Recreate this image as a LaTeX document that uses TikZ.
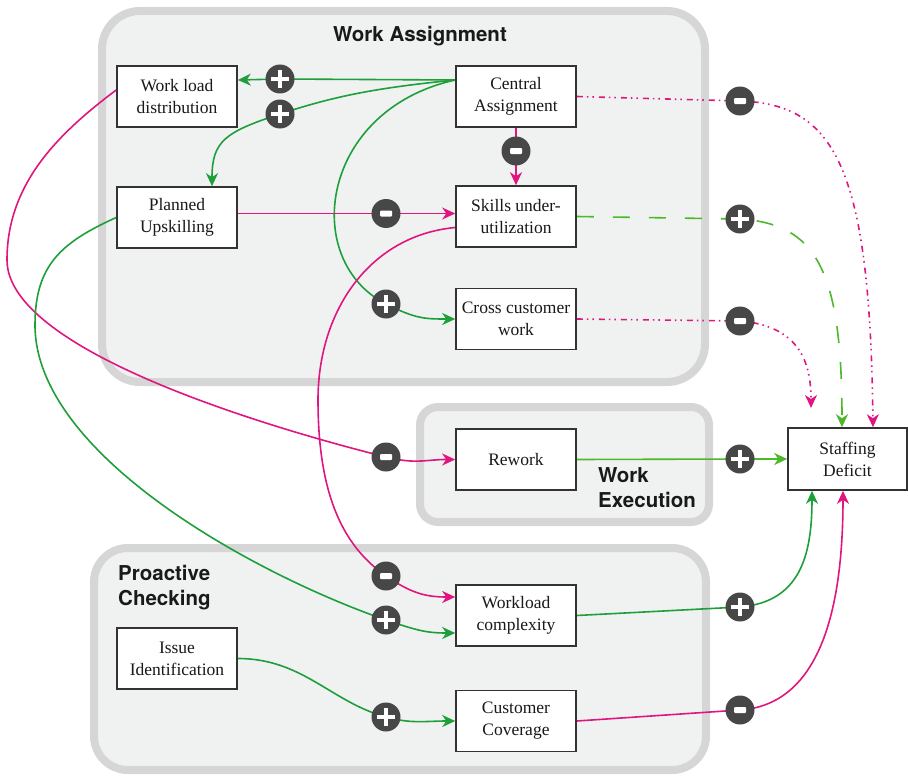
\documentclass[tikz,border=0pt]{standalone}
\usepackage{fontspec}
\setmainfont{Liberation Serif}
\newfontfamily\headfont{TeX Gyre Heros}
\usetikzlibrary{arrows.meta}

\definecolor{grpfill}{HTML}{F0F2F2}
\definecolor{grpline}{HTML}{D6D6D6}
\definecolor{signgray}{HTML}{474747}
\definecolor{posgreen}{HTML}{1E9F3A}
\definecolor{litegreen}{HTML}{4DB82A}
\definecolor{neglink}{HTML}{E0157F}

\pgfdeclarelayer{frame}
\pgfdeclarelayer{edge}
\pgfsetlayers{frame,edge,main}

\begin{document}
\begin{tikzpicture}[x=1pt,y=-1pt,
  factor/.style={draw=black!80, line width=1.6pt, fill=white, minimum width=120pt,
    minimum height=61pt, align=center, inner sep=2pt, text=black!90,
    font=\fontsize{17.5}{22}\selectfont},
  group/.style={draw=grpline, line width=8pt, fill=grpfill},
  grouptitle/.style={font=\headfont\bfseries\fontsize{20.5}{25}\selectfont,
    inner sep=0pt, align=left, text=black!90},
  link/.style={line width=1.6pt, -{Stealth[length=13pt,width=12pt,inset=4pt]}},
  pluslink/.style={link, draw=posgreen},
  minuslink/.style={link, draw=neglink},
  dashdotdot/.style={dash pattern=on 6pt off 4pt on 1.5pt off 4pt on 1.5pt off 5pt},
  sign/.style={circle, fill=signgray, minimum size=29pt, inner sep=0pt},
  plusmark/.style={sign, path picture={
    \draw[white, line width=4.5pt]
      ([xshift=-9pt]path picture bounding box.center) -- ([xshift=9pt]path picture bounding box.center)
      ([yshift=-9pt]path picture bounding box.center) -- ([yshift=9pt]path picture bounding box.center);}},
  minusmark/.style={sign, path picture={
    \fill[white, rounded corners=1pt]
      ([shift={(-6pt,-3pt)}]path picture bounding box.center) rectangle
      ([shift={(6pt,3pt)}]path picture bounding box.center);}}
]
\useasboundingbox (0,0) rectangle (908,776);

% groups
\begin{pgfonlayer}{frame}
\draw[group, rounded corners=38pt] (102,11) rectangle (705,382);
\draw[group, rounded corners=18pt] (420,407) rectangle (709,522);
\draw[group, rounded corners=34pt] (94,548) rectangle (706,770);
\end{pgfonlayer}

\node[grouptitle, anchor=north] (tAssign) at (420,26) {Work Assignment};
\node[grouptitle, anchor=north west] (tExec) at (598,467) {Work\\Execution};
\node[grouptitle, anchor=north west] (tCheck) at (118,565) {Proactive\\Checking};

% factors
\node[factor] (wld) at (177,96.5) {Work load\\distribution};
\node[factor] (cas) at (516,96.5) {Central\\Assignment};
\node[factor] (pup) at (177,217.5) {Planned\\Upskilling};
\node[factor] (suu) at (516,216.5) {Skills under-\\utilization};
\node[factor] (ccw) at (516,319) {Cross customer\\work};
\node[factor] (rwk) at (516,459.5) {Rework};
\node[factor, minimum width=119pt, minimum height=62pt] (sdf) at (847.5,459) {Staffing\\Deficit};
\node[factor] (wlc) at (516,615.5) {Workload\\complexity};
\node[factor] (iid) at (177,658.5) {Issue\\Identification};
\node[factor] (cov) at (516,721) {Customer\\Coverage};

% polarity signs
\node[plusmark] (sWld) at (280,79) {};
\node[plusmark] (sPup) at (280,114) {};
\node[minusmark] (sSuu) at (516,151) {};
\node[minusmark] (sPupSuu) at (386,213.5) {};
\node[plusmark] (sCcw) at (386,304) {};
\node[minusmark] (sCasSd) at (740,101) {};
\node[plusmark] (sSuuSd) at (740,219) {};
\node[minusmark] (sCcwSd) at (740,321) {};
\node[minusmark] (sRwk) at (386,457) {};
\node[plusmark] (sRwkSd) at (740,459) {};
\node[minusmark] (sSuuWlc) at (386,576) {};
\node[plusmark] (sPupWlc) at (386,620) {};
\node[plusmark] (sWlcSd) at (740,607) {};
\node[plusmark] (sCov) at (386,717) {};
\node[minusmark] (sCovSd) at (740,710) {};

\coordinate (ccwEnd) at (811,408);

% links
\begin{pgfonlayer}{edge}
\draw[pluslink] ([yshift=16.5pt]cas.west) -- (sWld.center) -- ([yshift=16.5pt]wld.east);
\draw[pluslink] ([yshift=16.5pt]cas.west) .. controls +(-80,8) and +(55,-18) .. (sPup.center)
  .. controls +(-55,18) and +(0,-45) .. ([xshift=35pt]pup.north);
\draw[pluslink] ([yshift=16.5pt]cas.west) .. controls (320,110) and (300,260) .. (sCcw.center)
  .. controls +(30,15) and +(-30,0) .. (ccw.west);
\draw[minuslink] (cas.south) -- (sSuu.center) -- (suu.north);
\draw[minuslink] ([yshift=4pt]pup.east) -- (sPupSuu.center) -- ([yshift=3pt]suu.west);

\draw[minuslink] ([yshift=6.5pt]wld.west) .. controls +(-60,45) and +(0,-75) .. (7,260)
  .. controls +(0,90) and +(-120,-30) .. (sRwk.center)
  .. controls +(30,7.5) and +(-30,0) .. (rwk.west);
\draw[pluslink] (pup.west) .. controls +(-55,25) and +(0,-60) .. (35,325)
  .. controls +(0,130) and +(-130,-45) .. (sPupWlc.center)
  .. controls +(30,10) and +(-30,0) .. ([yshift=-17.5pt]wlc.west);
\draw[minuslink] ([yshift=-11pt]suu.west) .. controls +(-85,8) and +(0,-90) .. (318,400)
  .. controls +(0,100) and +(-40,-28) .. (sSuuWlc.center)
  .. controls +(25,17) and +(-30,0) .. ([yshift=18.5pt]wlc.west);
\draw[pluslink] (iid.east) .. controls +(65,0) and +(-55,-15) .. (sCov.center)
  .. controls +(25,7) and +(-30,0) .. (cov.west);

\draw[minuslink, dashdotdot] (cas.east) -- (sCasSd.center)
  .. controls +(95,3) and +(-3,-260) .. ([xshift=25.5pt]sdf.north);
\draw[pluslink, draw=litegreen, dash pattern=on 17pt off 19pt] (suu.east) -- (sSuuSd.center)
  .. controls +(75,5) and +(0,-160) .. ([xshift=-5.5pt]sdf.north);
\draw[minuslink, dashdotdot] (ccw.east) -- (sCcwSd.center)
  .. controls +(60,5) and +(0,-45) .. (ccwEnd);
\draw[pluslink, draw=litegreen] (rwk.east) -- (sRwkSd.center) -- (sdf.west);
\draw[pluslink] (wlc.east) -- (sWlcSd.center)
  .. controls +(60,-5) and +(0,65) .. ([xshift=-35.5pt]sdf.south);
\draw[minuslink] (cov.east) -- (sCovSd.center)
  .. controls +(75,-5) and +(0,130) .. ([xshift=-4.5pt]sdf.south);
\end{pgfonlayer}

\end{tikzpicture}
\end{document}
